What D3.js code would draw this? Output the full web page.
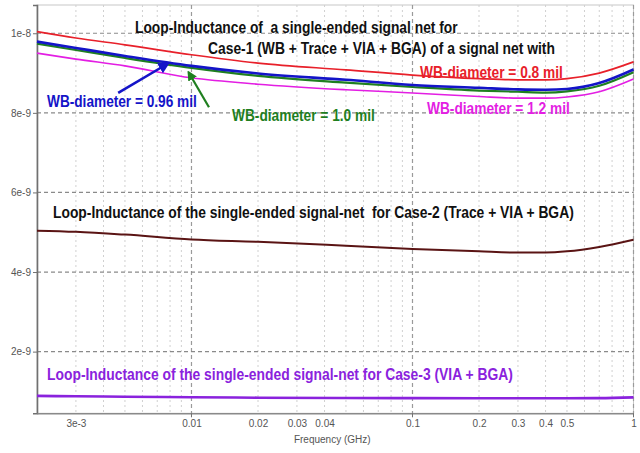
<!DOCTYPE html>
<html>
<head>
<meta charset="utf-8">
<script src="https://cdn.jsdelivr.net/npm/d3@7/dist/d3.min.js"></script>
<style>
  html, body { margin: 0; padding: 0; background: #fff; }
  svg { display: block; }
  .lbl { font-family: "Liberation Sans", Arial, sans-serif; font-weight: bold; }
  .tick-text { font-family: "Liberation Sans", Arial, sans-serif; font-size: 10px; fill: #555; }
</style>
</head>
<body>
<svg id="chart" width="640" height="453"></svg>
<script>
// Frequency sweep (GHz) shared by all traces
const freqs = [0.002, 0.003, 0.005, 0.01, 0.02, 0.05, 0.1, 0.2, 0.3, 0.4, 0.5, 0.7, 1];

// Loop inductance (nH) per case
const case1_wb080 = [10.04, 9.88, 9.71, 9.46, 9.25, 9.08, 8.95, 8.86, 8.83, 8.83, 8.86, 9.00, 9.28];
const case1_wb096 = [9.79, 9.63, 9.43, 9.18, 8.99, 8.83, 8.70, 8.63, 8.59, 8.58, 8.60, 8.75, 9.09];
const case1_wb100 = [9.74, 9.58, 9.38, 9.13, 8.93, 8.76, 8.65, 8.56, 8.53, 8.51, 8.54, 8.68, 9.02];
const case1_wb120 = [9.50, 9.35, 9.18, 8.88, 8.72, 8.58, 8.50, 8.41, 8.37, 8.37, 8.40, 8.53, 8.85];
const case2 = [5.04, 5.01, 4.94, 4.82, 4.76, 4.66, 4.58, 4.52, 4.49, 4.49, 4.52, 4.63, 4.81];
const case3 = [0.887, 0.878, 0.866, 0.855, 0.842, 0.835, 0.832, 0.830, 0.830, 0.830, 0.830, 0.832, 0.850];

// Axis ticks
const yTickValues = [2e-9, 4e-9, 6e-9, 8e-9, 1e-8];
const yTickLabels = ["2e-9", "4e-9", "6e-9", "8e-9", "1e-8"];
const xTickValues = [0.003, 0.01, 0.02, 0.03, 0.04, 0.1, 0.2, 0.3, 0.4, 0.5, 1];
const xTickLabels = ["3e-3", "0.01", "0.02", "0.03", "0.04", "0.1", "0.2", "0.3", "0.4", "0.5", "1"];
const xMajor = [0.01, 0.1, 1];
const xMinor = [3e-3, 4e-3, 5e-3, 6e-3, 7e-3, 8e-3, 9e-3,
                0.02, 0.03, 0.04, 0.05, 0.06, 0.07, 0.08, 0.09,
                0.2, 0.3, 0.4, 0.5, 0.6, 0.7, 0.8, 0.9];

const W = 640, H = 453;
const m = { left: 37, right: 6.5, top: 5, bottom: 39.7 };

const svg = d3.select("#chart");
const x = d3.scaleLog().domain([0.002, 1]).range([m.left, W - m.right]);
const y = d3.scaleLinear().domain([0.45e-9, 1.071e-8]).range([H - m.bottom, m.top]);

// plot frame
svg.append("rect")
  .attr("x", m.left).attr("y", m.top)
  .attr("width", W - m.right - m.left).attr("height", H - m.bottom - m.top)
  .attr("fill", "#fff").attr("stroke", "#c8c8c8").attr("stroke-width", 1);

// minor vertical grid
svg.append("g").selectAll("line").data(xMinor).join("line")
  .attr("x1", d => x(d)).attr("x2", d => x(d))
  .attr("y1", m.top).attr("y2", H - m.bottom)
  .attr("stroke", "#d0d0d0").attr("stroke-width", 1).attr("stroke-dasharray", "2,3");

// major vertical grid
svg.append("g").selectAll("line").data(xMajor).join("line")
  .attr("x1", d => x(d)).attr("x2", d => x(d))
  .attr("y1", m.top).attr("y2", H - m.bottom)
  .attr("stroke", "#9a9a9a").attr("stroke-width", 1.2).attr("stroke-dasharray", "4,3");

// horizontal grid
svg.append("g").selectAll("line").data(yTickValues).join("line")
  .attr("x1", m.left).attr("x2", W - m.right)
  .attr("y1", d => y(d)).attr("y2", d => y(d))
  .attr("stroke", "#8a8a8a").attr("stroke-width", 1.2).attr("stroke-dasharray", "4,3");

// axes
const yAxis = d3.axisLeft(y).tickValues(yTickValues)
  .tickFormat((d, i) => yTickLabels[i]).tickSize(4).tickPadding(2);
const gy = svg.append("g").attr("transform", `translate(${m.left},0)`).call(yAxis);
gy.select(".domain").attr("stroke", "#707070").attr("stroke-width", 1.6);
gy.selectAll(".tick line").attr("stroke", "#707070");
gy.selectAll(".tick text").attr("class", "tick-text").attr("fill", "#555");

const xAxis = d3.axisBottom(x).tickValues(xTickValues)
  .tickFormat((d, i) => xTickLabels[i]).tickSize(0).tickPadding(7);
const gx = svg.append("g").attr("transform", `translate(0,${H - m.bottom})`).call(xAxis);
gx.select(".domain").attr("stroke", "#8a8a8a").attr("stroke-width", 1.6);
gx.selectAll(".tick text").attr("class", "tick-text").attr("fill", "#555");
// major tick marks on the frequency axis
svg.append("g").selectAll("line").data(xMajor).join("line")
  .attr("x1", d => x(d)).attr("x2", d => x(d))
  .attr("y1", H - m.bottom).attr("y2", H - m.bottom + 4)
  .attr("stroke", "#707070");

svg.append("text").attr("class", "tick-text")
  .attr("x", (m.left + W - m.right) / 2 - 3).attr("y", H - 10)
  .attr("text-anchor", "middle")
  .text("Frequency (GHz)");

// traces
const line = d3.line()
  .x(d => x(d[0])).y(d => y(d[1] * 1e-9))
  .curve(d3.curveMonotoneX);

const traces = [
  { v: case3, color: "#8a22dd", w: 2.6 },
  { v: case2, color: "#5a1414", w: 2.0 },
  { v: case1_wb120, color: "#e31ee3", w: 1.6 },
  { v: case1_wb100, color: "#1f7f1f", w: 2.2 },
  { v: case1_wb096, color: "#1414c8", w: 2.6 },
  { v: case1_wb080, color: "#e8202a", w: 1.7 }
];
svg.append("g").selectAll("path").data(traces).join("path")
  .attr("d", t => line(freqs.map((f, i) => [f, t.v[i]])))
  .attr("fill", "none")
  .attr("stroke", t => t.color)
  .attr("stroke-width", t => t.w)
  .attr("stroke-linejoin", "round");

// arrow markers
const defs = svg.append("defs");
function marker(id, color) {
  defs.append("marker").attr("id", id)
    .attr("viewBox", "0 0 10 10").attr("refX", 8).attr("refY", 5)
    .attr("markerWidth", 4.5).attr("markerHeight", 4.5)
    .attr("orient", "auto")
    .append("path").attr("d", "M0,0 L10,5 L0,10 Z").attr("fill", color);
}
marker("arrBlue", "#1414c8");
marker("arrGreen", "#1f7f1f");

// callout arrows (tail and tip in data space: GHz, nH)
const arrows = [
  { from: [0.00466, 8.50], to: [0.00783, 9.24], color: "#1414c8", w: 2.6, id: "arrBlue" },
  { from: [0.0120, 8.14], to: [0.0097, 9.02], color: "#1f7f1f", w: 2.2, id: "arrGreen" }
];
svg.append("g").selectAll("line").data(arrows).join("line")
  .attr("x1", a => x(a.from[0])).attr("y1", a => y(a.from[1] * 1e-9))
  .attr("x2", a => x(a.to[0])).attr("y2", a => y(a.to[1] * 1e-9))
  .attr("stroke", a => a.color).attr("stroke-width", a => a.w)
  .attr("marker-end", a => `url(#${a.id})`);

// annotations: condensed bold text, squeezed horizontally to its span
const notes = [
  { t: "Loop-Inductance of  a single-ended signal net for", x: 135, y: 33, w: 323, c: "#111", s: 17 },
  { t: "Case-1 (WB + Trace + VIA + BGA) of a signal net with", x: 208, y: 54, w: 347, c: "#111", s: 17 },
  { t: "WB-diameter = 0.8 mil", x: 420, y: 78, w: 143, c: "#e8202a", s: 16 },
  { t: "WB-diameter = 0.96 mil", x: 47, y: 107, w: 150, c: "#1414c8", s: 16 },
  { t: "WB-diameter = 1.2 mil", x: 427, y: 113.5, w: 143, c: "#e31ee3", s: 16 },
  { t: "WB-diameter = 1.0 mil", x: 232, y: 120.5, w: 143, c: "#1f7f1f", s: 16 },
  { t: "Loop-Inductance of the single-ended signal-net  for Case-2 (Trace + VIA + BGA)", x: 53, y: 217.5, w: 521, c: "#111", s: 16 },
  { t: "Loop-Inductance of the single-ended signal-net for Case-3 (VIA + BGA)", x: 47, y: 380, w: 466, c: "#8a22dd", s: 16 }
];
svg.append("g").selectAll("text").data(notes).join("text")
  .attr("class", "lbl")
  .attr("x", 0).attr("y", 0)
  .attr("fill", n => n.c)
  .style("font-size", n => n.s + "px")
  .style("white-space", "pre")
  .text(n => n.t)
  .each(function (n) {
    const natural = this.getComputedTextLength();
    const k = n.w / natural;
    d3.select(this).attr("transform", `translate(${n.x},${n.y}) scale(${k},1)`);
  });
</script>
</body>
</html>
